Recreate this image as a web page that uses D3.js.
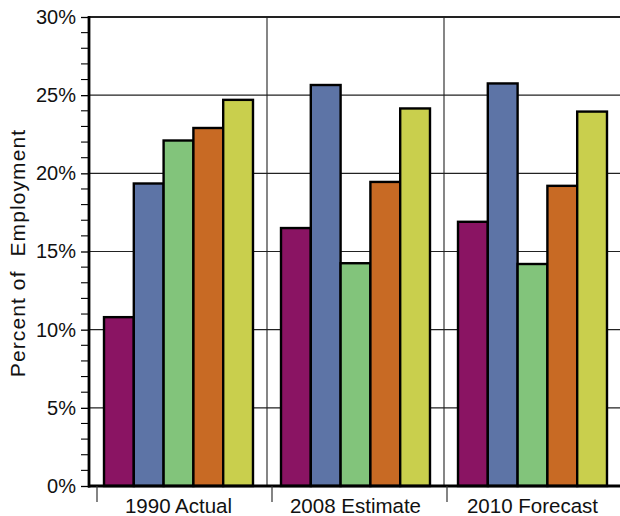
<!DOCTYPE html>
<html>
<head>
<meta charset="utf-8">
<script src="https://cdn.jsdelivr.net/npm/d3@7"></script>
<style>
  html, body { margin: 0; padding: 0; background: #fff; }
  svg { display: block; font-family: "Liberation Sans", Arial, sans-serif; }
</style>
</head>
<body>
<svg id="chart" width="620" height="516"></svg>
<script>
// Employment share by group, three periods
const categories = ["1990 Actual", "2008 Estimate", "2010 Forecast"];
const seriesNames = ["s1", "s2", "s3", "s4", "s5"];
const seriesColors = ["#8a1463", "#5d74a6", "#82c47b", "#c86a24", "#c9cf4d"];
const s1 = [10.8, 16.5, 16.9];
const s2 = [19.35, 25.65, 25.75];
const s3 = [22.1, 14.25, 14.2];
const s4 = [22.9, 19.45, 19.2];
const s5 = [24.7, 24.15, 23.95];
const seriesValues = [s1, s2, s3, s4, s5];
const yTicks = [0, 5, 10, 15, 20, 25, 30];

const svg = d3.select("#chart");
const plotLeft = 89, plotRight = 621, plotTop = 17, plotBottom = 486;

const x = d3.scaleBand().domain(categories).range([plotLeft + 1, plotRight]).paddingInner(0).paddingOuter(0);
const xs = d3.scaleBand().domain(seriesNames).range([0, x.bandwidth()]).paddingOuter(0.47).paddingInner(0);
const y = d3.scaleLinear().domain([0, 30]).range([plotBottom, plotTop]);

// horizontal gridlines
svg.append("g").selectAll("line").data(yTicks.filter(d => d > 0)).join("line")
  .attr("x1", plotLeft).attr("x2", 620)
  .attr("y1", d => y(d)).attr("y2", d => y(d))
  .attr("stroke", "#222").attr("stroke-width", d => d === 30 ? 2 : 1.1);

// vertical gridlines between periods
svg.append("g").selectAll("line").data(categories.slice(1)).join("line")
  .attr("x1", d => x(d)).attr("x2", d => x(d))
  .attr("y1", plotTop).attr("y2", plotBottom)
  .attr("stroke", "#222").attr("stroke-width", 1.1);

// bars
const groups = svg.append("g").selectAll("g").data(categories).join("g")
  .attr("transform", d => `translate(${x(d)},0)`);
groups.selectAll("rect")
  .data((c, ci) => seriesNames.map((s, si) => ({ s, v: seriesValues[si][ci], color: seriesColors[si] })))
  .join("rect")
  .attr("x", d => xs(d.s))
  .attr("width", xs.bandwidth())
  .attr("y", d => y(d.v))
  .attr("height", d => y(0) - y(d.v))
  .attr("fill", d => d.color)
  .attr("stroke", "#000").attr("stroke-width", 2.4);

// y axis with minor ticks every 1%
const yAxis = d3.axisLeft(y).tickValues(yTicks).tickFormat(d => d + "%").tickSize(8).tickPadding(5);
const yg = svg.append("g").attr("transform", `translate(${plotLeft},0)`).call(yAxis);
yg.select(".domain").remove();
yg.selectAll(".tick line").attr("stroke", "#000").attr("stroke-width", 1.3);
yg.selectAll(".tick text").attr("font-size", 20).attr("fill", "#111");
yg.append("g").selectAll("line").data(d3.range(0, 31).filter(d => d % 5 !== 0)).join("line")
  .attr("x1", -8).attr("x2", 0).attr("y1", d => y(d)).attr("y2", d => y(d))
  .attr("stroke", "#000").attr("stroke-width", 1.1);
yg.append("line").attr("x1", 0).attr("x2", 0).attr("y1", plotTop - 1).attr("y2", plotBottom + 1.5)
  .attr("stroke", "#000").attr("stroke-width", 2.8);

// x axis
svg.append("line").attr("x1", plotLeft - 1).attr("x2", 620).attr("y1", plotBottom).attr("y2", plotBottom)
  .attr("stroke", "#000").attr("stroke-width", 3);
svg.append("g").selectAll("line").data(categories).join("line")
  .attr("x1", (d, i) => x(d) + 7 - 2 * i).attr("x2", (d, i) => x(d) + 7 - 2 * i)
  .attr("y1", plotBottom).attr("y2", plotBottom + 16)
  .attr("stroke", "#333").attr("stroke-width", 1.2);
svg.append("g").selectAll("text").data(categories).join("text")
  .attr("x", d => x(d) + x.bandwidth() / 2)
  .attr("y", 513)
  .attr("text-anchor", "middle")
  .attr("font-size", 20.5).attr("fill", "#111")
  .text(d => d);

// y axis title
svg.append("text")
  .attr("transform", "translate(25,253) rotate(-90)")
  .attr("text-anchor", "middle")
  .attr("font-size", 21).attr("fill", "#111")
  .attr("letter-spacing", 1.1)
  .style("white-space", "pre")
  .text("Percent of  Employment");
</script>
</body>
</html>
